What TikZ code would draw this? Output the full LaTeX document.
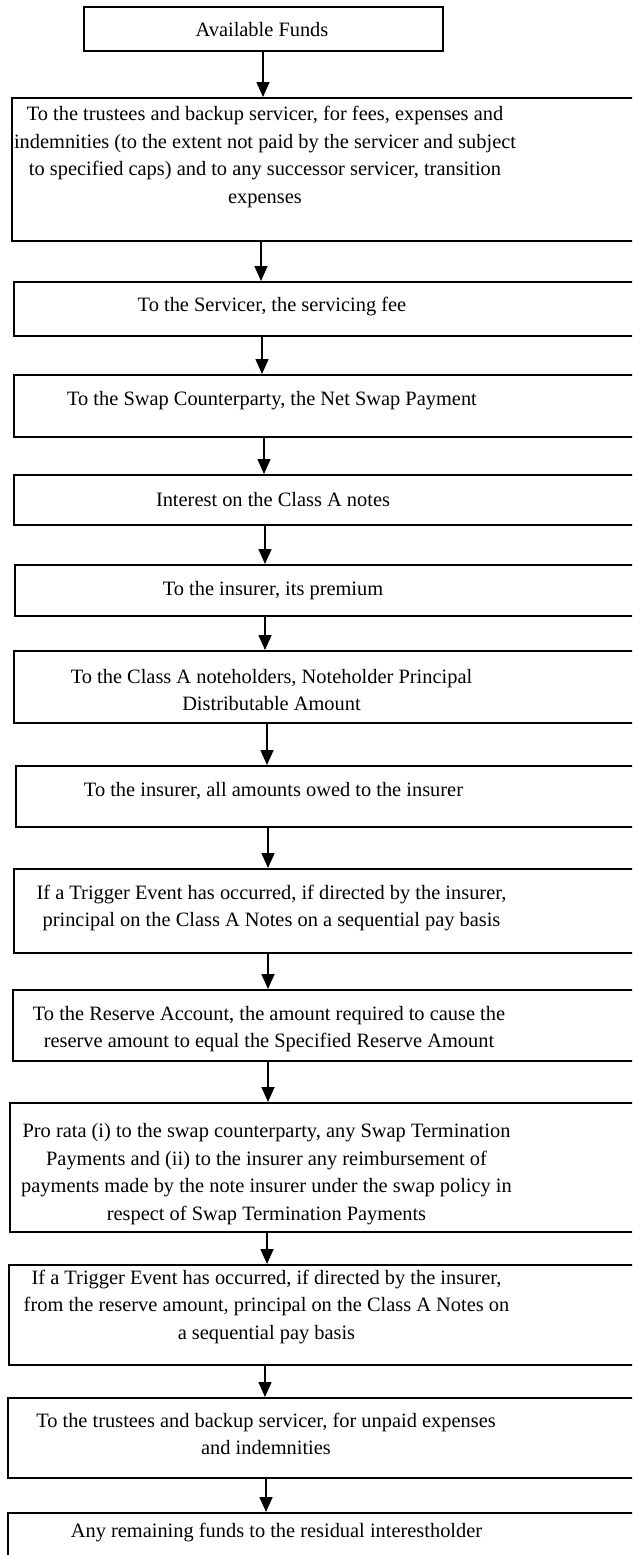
\documentclass[tikz,border=0pt]{standalone}
\usepackage{fontspec}
\setmainfont{Liberation Serif}
\usetikzlibrary{arrows.meta}

\begin{document}
\begin{tikzpicture}[x=1pt, y=-1pt,
    stepbox/.style={draw, line width=1.6pt, rectangle, inner sep=0pt, anchor=north west},
    steptext/.style={align=center, inner sep=0pt, font=\fontsize{20.4}{27.6}\selectfont},
    flow/.style={line width=1.6pt, -{Triangle[width=13pt, length=15pt]}}]
    \useasboundingbox (0,0) rectangle (632,1555);
    \clip (0,0) rectangle (632,1555);

    % boxes: number / left / top / bottom
    \node[stepbox, minimum width=359pt, minimum height=44pt] (b1) at (83,6) {};
    \foreach \n/\l/\t/\b in {2/11/97/240, 3/13/281/335, 4/13/374/436, 5/13/474/524,
        6/14/564/615, 7/13/650/722, 8/15/765/826, 9/13/868/952, 10/12/989/1060,
        11/9/1102/1231, 12/8/1264/1364, 13/7/1397/1477, 14/7/1512/1600}
        \node[stepbox, minimum width={(720-\l)*1pt}, minimum height={(\b-\t)*1pt}] (b\n) at (\l,\t) {};

    % texts
    \node[steptext] (t1) at (262,30) {Available Funds};
    \node[steptext] (t2) at (265,157) {To the trustees and backup servicer, for fees, expenses and\\indemnities (to the extent not paid by the servicer and subject\\to specified caps) and to any successor servicer, transition\\expenses};
    \node[steptext] (t3) at (272,307) {To the Servicer, the servicing fee};
    \node[steptext] (t4) at (272,401) {To the Swap Counterparty, the Net Swap Payment};
    \node[steptext] (t5) at (273,500) {Interest on the Class A notes};
    \node[steptext] (t6) at (273,591) {To the insurer, its premium};
    \node[steptext] (t7) at (271.5,690) {To the Class A noteholders, Noteholder Principal\\Distributable Amount};
    \node[steptext] (t8) at (273.5,791) {To the insurer, all amounts owed to the insurer};
    \node[steptext] (t9) at (271.5,908) {If a Trigger Event has occurred, if directed by the insurer,\\principal on the Class A Notes on a sequential pay basis};
    \node[steptext] (t10) at (269,1029) {To the Reserve Account, the amount required to cause the\\reserve amount to equal the Specified Reserve Amount};
    \node[steptext] (t11) at (266.5,1174) {Pro rata (i) to the swap counterparty, any Swap Termination\\Payments and (ii) to the insurer any reimbursement of\\payments made by the note insurer under the swap policy in\\respect of Swap Termination Payments};
    \node[steptext] (t12) at (266.5,1307) {If a Trigger Event has occurred, if directed by the insurer,\\from the reserve amount, principal on the Class A Notes on\\a sequential pay basis};
    \node[steptext] (t13) at (266,1434) {To the trustees and backup servicer, for unpaid expenses\\and indemnities};
    \node[steptext] (t14) at (276.5,1533) {Any remaining funds to the residual interestholder};

    % arrows between boxes
    \foreach \a/\b/\x in {1/2/263, 2/3/261, 3/4/262, 4/5/264, 5/6/265, 6/7/265, 7/8/267,
        8/9/268, 9/10/268, 10/11/268, 11/12/267, 12/13/265, 13/14/266}
        \draw[flow] (b\a.south -| \x,0) -- (b\b.north -| \x,0);
\end{tikzpicture}
\end{document}
